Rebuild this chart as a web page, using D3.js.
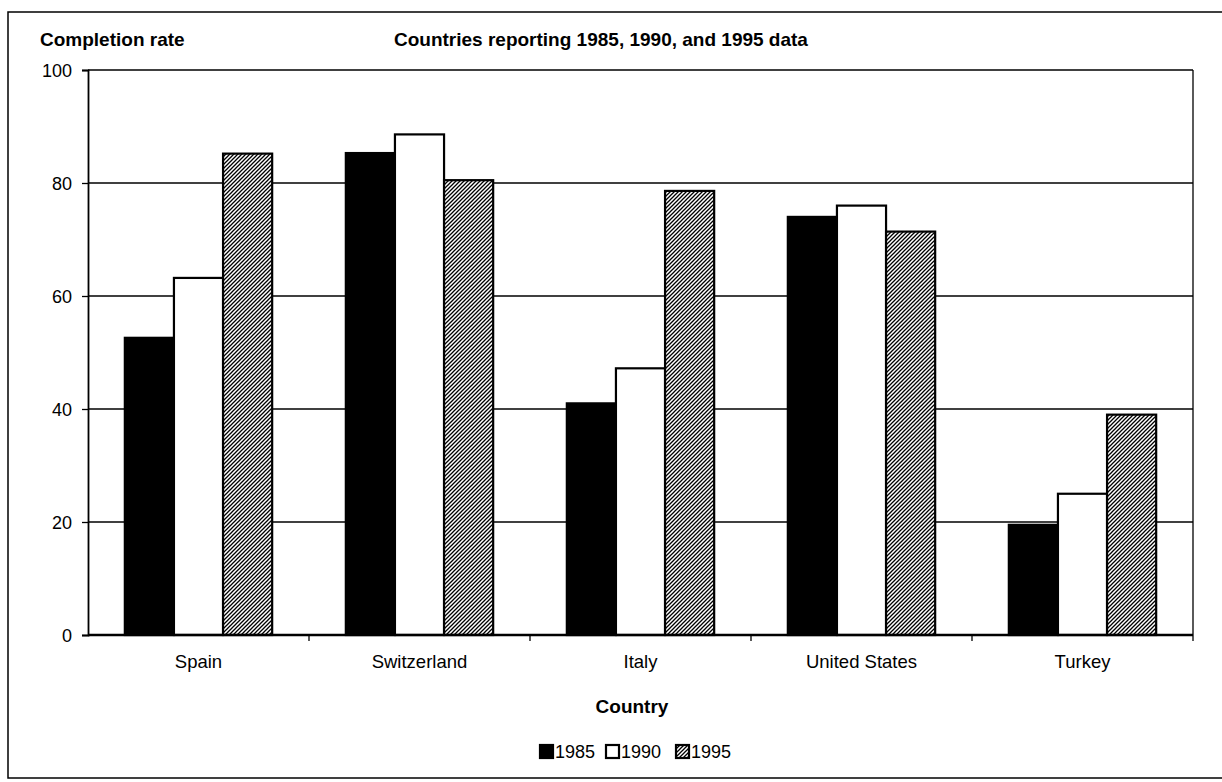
<!DOCTYPE html>
<html>
<head>
<meta charset="utf-8">
<script src="https://cdn.jsdelivr.net/npm/d3@7"></script>
<style>
  body { margin: 0; background: #fff; }
  text { font-family: "Liberation Sans", Arial, Helvetica, sans-serif; fill: #000; }
</style>
</head>
<body>
<div id="chart"></div>
<script>
// Data
var countries = ["Spain", "Switzerland", "Italy", "United States", "Turkey"];
var years = ["1985", "1990", "1995"];
var rate1985 = [52.6, 85.3, 41.0, 74.0, 19.5];
var rate1990 = [63.2, 88.6, 47.2, 76.0, 25.0];
var rate1995 = [85.2, 80.5, 78.6, 71.4, 39.0];
var yTicks = [0, 20, 40, 60, 80, 100];

var series = [rate1985, rate1990, rate1995];

var width = 1222, height = 782;
var plot = {left: 88, right: 1193, top: 70, bottom: 635};

var svg = d3.select("#chart").append("svg")
    .attr("width", width)
    .attr("height", height);

// hatch for the 1995 bars ("/" diagonal lines)
var defs = svg.append("defs");
var hatch = defs.append("pattern")
    .attr("id", "hatch")
    .attr("patternUnits", "userSpaceOnUse")
    .attr("width", 4).attr("height", 4);
hatch.append("rect").attr("width", 4).attr("height", 4).attr("fill", "#fff");
hatch.append("path")
    .attr("d", "M-1,1 l2,-2 M0,4 l4,-4 M3,5 l2,-2")
    .attr("stroke", "#000").attr("stroke-width", 1.3);

var fills = ["#000", "#fff", "url(#hatch)"];

// outer frame
svg.append("rect")
    .attr("x", 8).attr("y", 12)
    .attr("width", 1300).attr("height", 766)
    .attr("fill", "none").attr("stroke", "#000").attr("stroke-width", 1.5);

// scales
var x0 = d3.scaleBand().domain(countries).range([plot.left, plot.right]);
var x1 = d3.scaleBand().domain(years).range([0, x0.bandwidth()]).paddingOuter(0.75);
var y = d3.scaleLinear().domain([0, 100]).range([plot.bottom, plot.top]);

// gridlines
svg.append("g").selectAll("line")
    .data(yTicks.filter(d => d > 0))
    .enter().append("line")
    .attr("x1", plot.left).attr("x2", plot.right)
    .attr("y1", d => y(d)).attr("y2", d => y(d))
    .attr("stroke", "#000").attr("stroke-width", 1.3);

// right border of plot
svg.append("line")
    .attr("x1", plot.right).attr("x2", plot.right)
    .attr("y1", plot.top).attr("y2", plot.bottom)
    .attr("stroke", "#000").attr("stroke-width", 1.3);

// bars
var groups = svg.append("g").selectAll("g")
    .data(countries)
    .enter().append("g")
    .attr("transform", d => "translate(" + x0(d) + ",0)");

groups.selectAll("rect")
    .data((c, i) => years.map((yr, j) => ({year: yr, value: series[j][i], idx: j})))
    .enter().append("rect")
    .attr("x", d => x1(d.year))
    .attr("width", x1.bandwidth())
    .attr("y", d => y(d.value))
    .attr("height", d => y(0) - y(d.value))
    .attr("fill", d => fills[d.idx])
    .attr("stroke", "#000")
    .attr("stroke-width", 2.2);

// y axis
var yAxis = d3.axisLeft(y).tickValues(yTicks).tickSize(6).tickPadding(10);
var yg = svg.append("g")
    .attr("transform", "translate(" + plot.left + ",0)")
    .call(yAxis);
yg.select(".domain").attr("stroke", "#000").attr("stroke-width", 1.8);
yg.selectAll(".tick line").attr("stroke", "#000").attr("stroke-width", 1.3);
yg.selectAll(".tick text")
    .style("font-size", "18px")
    .style("font-family", "'Liberation Sans', Arial, sans-serif")
    .attr("dy", "0.35em");

// x axis: ticks between categories
var xg = svg.append("g")
    .attr("transform", "translate(0," + plot.bottom + ")");
xg.append("line")
    .attr("x1", plot.left).attr("x2", plot.right)
    .attr("stroke", "#000").attr("stroke-width", 2.5);
xg.selectAll("line.tk")
    .data(countries.slice(1).map(c => x0(c)).concat([plot.right]))
    .enter().append("line").attr("class", "tk")
    .attr("x1", d => d).attr("x2", d => d)
    .attr("y1", 0).attr("y2", 6)
    .attr("stroke", "#000").attr("stroke-width", 1.3);
xg.selectAll("text")
    .data(countries)
    .enter().append("text")
    .attr("x", d => x0(d) + x0.bandwidth() / 2)
    .attr("y", 33)
    .attr("text-anchor", "middle")
    .style("font-size", "18.5px")
    .text(d => d);

// titles
svg.append("text")
    .attr("x", 40).attr("y", 46)
    .style("font-size", "19px").style("font-weight", "bold")
    .text("Completion rate");
svg.append("text")
    .attr("x", 394).attr("y", 46)
    .style("font-size", "19px").style("font-weight", "bold")
    .text("Countries reporting 1985, 1990, and 1995 data");
svg.append("text")
    .attr("x", 632).attr("y", 713)
    .attr("text-anchor", "middle")
    .style("font-size", "19px").style("font-weight", "bold")
    .text("Country");

// legend
var legendX = [540, 606, 676];
var lg = svg.append("g").selectAll("g")
    .data(years)
    .enter().append("g")
    .attr("transform", (d, i) => "translate(" + legendX[i] + ",745)");
lg.append("rect")
    .attr("width", 13).attr("height", 13)
    .attr("fill", (d, i) => fills[i])
    .attr("stroke", "#000").attr("stroke-width", 2.2);
lg.append("text")
    .attr("x", 15).attr("y", 13)
    .style("font-size", "18px")
    .text(d => d);
</script>
</body>
</html>
